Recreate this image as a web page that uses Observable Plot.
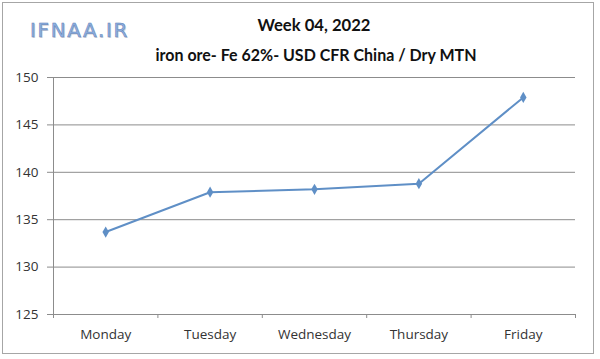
<!DOCTYPE html>
<html><head><meta charset="utf-8">
<script src="https://cdn.jsdelivr.net/npm/d3@7"></script>
<script src="https://cdn.jsdelivr.net/npm/@observablehq/plot@0.6"></script>
<style>
body{margin:0;background:#fff;}
#wrap{position:relative;width:600px;height:359px;font-family:Lato,sans-serif;overflow:hidden;}
#frame{position:absolute;left:2px;top:2px;width:590px;height:350px;border:1px solid #a6a6a6;pointer-events:none;}
#chart{position:absolute;left:0;top:0;}
#over{position:absolute;left:0;top:0;}
</style></head>
<body>
<div id="wrap"><div id="frame"></div><div id="chart"></div>
<svg id="over" width="600" height="80">
  <text x="31" y="38" font-family="DejaVu Sans" font-size="19" fill="#b5b5c0" opacity="0.6" letter-spacing="1.6" textLength="99" lengthAdjust="spacingAndGlyphs">IFNAA.IR</text>
  <text id="logo" x="30" y="37" font-family="DejaVu Sans" font-size="19" fill="#8db0e2" stroke="#6080b5" stroke-width="0.5" letter-spacing="1.6">IFNAA.IR</text>
  <text id="title" x="314" y="31" text-anchor="middle" font-family="Lato" font-weight="bold" font-size="17" fill="#111">Week 04, 2022</text>
  <text id="sub" x="316" y="61" text-anchor="middle" font-family="Lato" font-weight="bold" font-size="17" fill="#111">iron ore- Fe 62%- USD CFR China / Dry MTN</text>
</svg>
</div>
<script>
const days = ["Monday", "Tuesday", "Wednesday", "Thursday", "Friday"];
const prices = [133.7, 137.9, 138.2, 138.8, 147.9];
const yTicks = [125, 130, 135, 140, 145, 150];

const data = days.map((d, i) => ({i, day: d, price: prices[i]}));
const bounds = d3.range(days.length + 1).map(i => i - 0.5);
const axisColor = "#8c8c8c";
const lineColor = "#5f8fc6";

const chart = Plot.plot({
  width: 600, height: 359,
  marginTop: 77, marginBottom: 45, marginLeft: 53, marginRight: 25,
  style: {fontFamily: "'Open Sans', sans-serif", fontSize: "13.5px", background: "transparent", color: "#404040"},
  x: {type: "linear", domain: [-0.5, days.length - 0.5]},
  y: {domain: [d3.min(yTicks), d3.max(yTicks)]},
  marks: [
    Plot.ruleY(yTicks.slice(1), {stroke: axisColor}),
    Plot.axisY({ticks: yTicks, tickSize: 6, tickPadding: 9, stroke: axisColor, fill: "#333", label: null}),
    Plot.axisX({ticks: bounds, tickSize: 4, tickFormat: () => "", stroke: axisColor, label: null}),
    Plot.axisX({ticks: d3.range(days.length), tickSize: 0, tickPadding: 15, tickFormat: i => days[i], fill: "#333", label: null}),
    Plot.ruleX([-0.5], {stroke: axisColor}),
    Plot.ruleY([d3.min(yTicks)], {stroke: axisColor}),
    Plot.line(data, {x: "i", y: "price", stroke: lineColor, strokeWidth: 2}),
    Plot.dot(data, {x: "i", y: "price", symbol: "diamond", r: 3.4, fill: lineColor})
  ]
});
document.getElementById("chart").appendChild(chart);

// fit title widths to the reference
function fit(id, w) {
  const el = document.getElementById(id);
  el.setAttribute("textLength", w);
  el.setAttribute("lengthAdjust", "spacingAndGlyphs");
}
fit("title", 113);
fit("sub", 321);
fit("logo", 99);
</script>
</body></html>
